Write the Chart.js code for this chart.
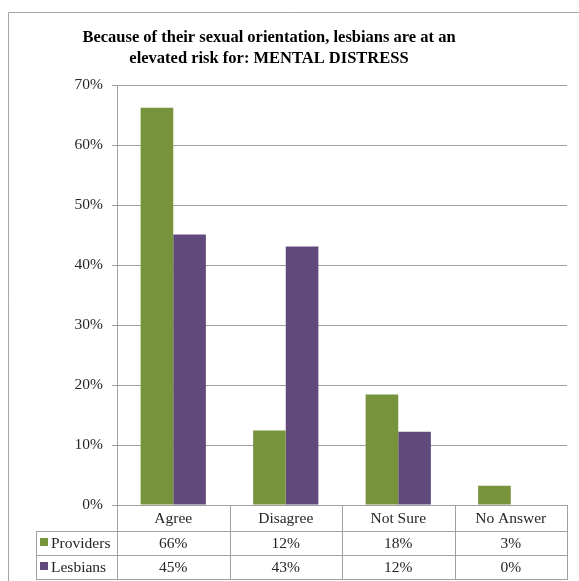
<!DOCTYPE html>
<html>
<head>
<meta charset="utf-8">
<script src="https://cdn.jsdelivr.net/npm/chart.js@4/dist/chart.umd.min.js"></script>
<style>
  body { margin: 0; background: #fff; }
  canvas { display: block; }
</style>
</head>
<body>
<canvas id="chart" width="579" height="581"></canvas>
<script>
const titleLines = ["Because of their sexual orientation, lesbians are at an", "elevated risk for: MENTAL DISTRESS"];
const categories = ["Agree", "Disagree", "Not Sure", "No Answer"];
const seriesNames = ["Providers", "Lesbians"];
const providers = [66.2, 12.4, 18.4, 3.2];
const lesbians = [45.1, 43.1, 12.2, 0];
const yTicks = [0, 10, 20, 30, 40, 50, 60, 70];

const GREEN = "#77933c";
const PURPLE = "#604a7b";
const LINE = "#a0a0a0";
const TEXT = "#262626";
const SERIF = "'Liberation Serif', 'DejaVu Serif', serif";

// frame, title and data table drawn after the chart
const tablePlugin = {
    id: "tablePlugin",
    afterDraw(chart) {
        const ctx = chart.ctx;
        const area = chart.chartArea;
        const x = chart.scales.x;
        const step = x.getPixelForValue(1) - x.getPixelForValue(0);
        ctx.save();

        /* frame */
        ctx.strokeStyle = "#a6a6a6";
        ctx.lineWidth = 1;
        ctx.beginPath();
        ctx.moveTo(8.5, 581);
        ctx.lineTo(8.5, 12.5);
        ctx.lineTo(579, 12.5);
        ctx.stroke();

        /* title */
        ctx.fillStyle = "#000";
        ctx.font = "bold 16.5px " + SERIF;
        ctx.textAlign = "center";
        ctx.textBaseline = "alphabetic";
        titleLines.forEach((t, i) => ctx.fillText(t, 269, 42 + i * 21));

        /* table grid */
        const rows = [area.bottom, 531, 555, 579];
        const tableLeft = 36;
        const cols = categories.map((c, i) => x.getPixelForValue(i) - step / 2);
        cols.push(x.getPixelForValue(categories.length - 1) + step / 2);
        ctx.strokeStyle = LINE;
        ctx.beginPath();
        cols.forEach(cx => {
            const px = Math.round(cx) + 0.5;
            ctx.moveTo(px, rows[0]);
            ctx.lineTo(px, rows[3]);
        });
        ctx.moveTo(tableLeft + 0.5, rows[1]);
        ctx.lineTo(tableLeft + 0.5, rows[3]);
        for (let r = 1; r < rows.length; r++) {
            ctx.moveTo(tableLeft, rows[r] + 0.5);
            ctx.lineTo(Math.round(cols[cols.length - 1]) + 1, rows[r] + 0.5);
        }
        ctx.stroke();

        /* header and values */
        ctx.fillStyle = TEXT;
        ctx.font = "15.5px " + SERIF;
        ctx.textBaseline = "middle";
        ctx.textAlign = "center";
        categories.forEach((c, i) => {
            const cx = x.getPixelForValue(i);
            ctx.fillText(c, cx, (rows[0] + rows[1]) / 2 + 1);
            chart.data.datasets.forEach((ds, d) => {
                ctx.fillText(Math.round(ds.data[i]) + "%", cx, (rows[d + 1] + rows[d + 2]) / 2 + 1);
            });
        });

        /* legend keys in the row headers */
        ctx.textAlign = "left";
        chart.data.datasets.forEach((ds, d) => {
            const cy = (rows[d + 1] + rows[d + 2]) / 2;
            ctx.fillStyle = ds.backgroundColor;
            ctx.fillRect(40, cy - 5, 8, 8);
            ctx.fillStyle = TEXT;
            ctx.fillText(ds.label, 51, cy + 1);
        });
        ctx.restore();
    }
};

new Chart(document.getElementById("chart"), {
    type: "bar",
    data: {
        labels: categories,
        datasets: [
            { label: seriesNames[0], data: providers, backgroundColor: GREEN, categoryPercentage: 0.58, barPercentage: 1 },
            { label: seriesNames[1], data: lesbians, backgroundColor: PURPLE, categoryPercentage: 0.58, barPercentage: 1 }
        ]
    },
    options: {
        responsive: false,
        animation: false,
        devicePixelRatio: 1,
        layout: { padding: { left: 0, top: 85, right: 12, bottom: 76 } },
        plugins: {
            legend: { display: false },
            title: { display: false },
            tooltip: { enabled: false }
        },
        scales: {
            x: { display: false },
            y: {
                min: 0,
                max: 70,
                afterBuildTicks: s => { s.ticks = yTicks.map(v => ({ value: v })); },
                afterFit: s => { s.width = 117; },
                grid: { color: LINE, tickLength: 5 },
                border: { color: LINE },
                ticks: {
                    color: TEXT,
                    padding: 9,
                    font: { family: SERIF, size: 15.5 },
                    callback: v => v + "%"
                }
            }
        }
    },
    plugins: [tablePlugin]
});
</script>
</body>
</html>
